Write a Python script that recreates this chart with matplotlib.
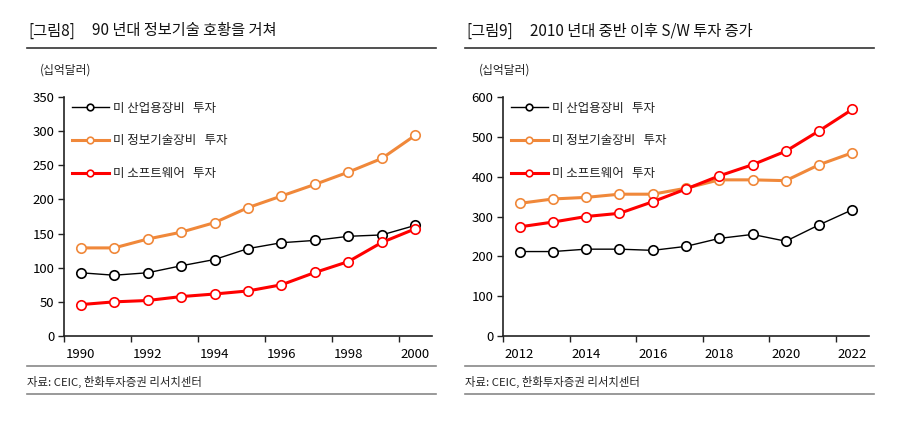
import matplotlib
matplotlib.use('Agg')
import matplotlib.pyplot as plt
from matplotlib.lines import Line2D

plt.rcParams['font.family'] = ['Noto Sans CJK KR', 'DejaVu Sans']

# data
years_90 = ['1990', '1991', '1992', '1993', '1994', '1995', '1996', '1997', '1998', '1999', '2000']
equip_90 = [92.6, 89, 92.6, 102.8, 112, 128, 136.6, 140, 146, 148, 162]
it_90 = [129, 129, 142, 152, 166, 188, 205, 222, 240, 260, 294]
sw_90 = [46, 50, 52, 57.7, 61.5, 66, 75, 93, 109, 137, 157]

years_10 = ['2012', '2013', '2014', '2015', '2016', '2017', '2018', '2019', '2020', '2021', '2022']
equip_10 = [212, 212, 218, 218, 215, 225, 245, 255, 238, 279, 317]
it_10 = [333, 344, 348, 356, 356, 371, 392, 392, 390, 430, 460]
sw_10 = [274, 286, 300, 308, 337, 369, 402, 430, 464, 515, 569]

labels = ['미 산업용장비   투자', '미 정보기술장비   투자', '미 소프트웨어   투자']
ORANGE = '#F0883A'
RED = '#FF0000'

W, H = 900, 424
fig = plt.figure(figsize=(W / 100, H / 100), dpi=100)


def px(x, y):
    return x / W, 1 - y / H


def draw_panel(rect, years, series, ymax, ystep):
    ax = fig.add_axes(rect)
    xs = list(range(len(years)))
    styles = [('#000000', 1.0), (ORANGE, 2.2), (RED, 2.2)]
    for vals, (c, lw), lab in zip(series, styles, labels):
        ax.plot(xs, vals, color=c, lw=lw, marker='o', ms=6.8, mfc='white',
                mec=c, mew=1.2, label=lab)
    ax.set_xlim(-0.5, len(years) - 0.5)
    ax.set_ylim(0, ymax)
    ax.set_yticks(range(0, ymax + 1, ystep))
    ax.set_xticks(xs[::2])
    ax.set_xticklabels(years[::2])
    ax.set_xticks([i - 0.5 for i in xs[::2]], minor=True)
    ax.tick_params(axis='x', which='major', length=0, pad=9, labelsize=9.5)
    ax.tick_params(axis='x', which='minor', length=4, width=1, color='#222222')
    ax.tick_params(axis='y', length=4, width=1, color='#222222', labelsize=9.5, pad=3)
    for s in ['top', 'right']:
        ax.spines[s].set_visible(False)
    for s in ['left', 'bottom']:
        ax.spines[s].set_color('#222222')
        ax.spines[s].set_linewidth(1.2)
    leg = ax.legend(loc='upper left', bbox_to_anchor=(-0.01, 1.027), frameon=False,
                    handlelength=3.0, handletextpad=0.3, labelspacing=1.57,
                    fontsize=9, markerscale=0.7)
    for t in leg.get_texts():
        t.set_color('#222222')
    return ax


x0, y0 = px(64, 336)
x1, y1 = px(432, 97)
draw_panel([x0, y0, x1 - x0, y1 - y0], years_90, [equip_90, it_90, sw_90], 350, 50)
x0, y0 = px(503, 336)
x1, y1 = px(869, 97)
draw_panel([x0, y0, x1 - x0, y1 - y0], years_10, [equip_10, it_10, sw_10], 600, 100)

# titles, lines and notes
panels = [
    (28, 92, 27, 436, '[그림8]', '90 년대 정보기술 호황을 거쳐', 40),
    (466, 530, 465, 874, '[그림9]', '2010 년대 중반 이후 S/W 투자 증가', 479),
]
for tx, tx2, lx0, lx1, num, title, ux in panels:
    fig.text(*px(tx, 31), num, fontsize=11, va='center', color='#111111')
    fig.text(*px(tx2, 31), title, fontsize=11, va='center', color='#111111')
    fig.add_artist(Line2D([lx0 / W, lx1 / W], [1 - 47.5 / H] * 2, color='#333333', lw=1.2))
    fig.text(*px(ux, 70), '(십억달러)', fontsize=8.5, va='center', color='#222222')
    fig.add_artist(Line2D([lx0 / W, lx1 / W], [1 - 365.5 / H] * 2, color='#888888', lw=1.2))
    fig.text(*px(lx0, 381.5), '자료: CEIC, 한화투자증권 리서치센터', fontsize=8.2,
             va='center', color='#222222')
    fig.add_artist(Line2D([lx0 / W, lx1 / W], [1 - 393.5 / H] * 2, color='#888888', lw=1.2))

fig.savefig('out.png', dpi=100)
